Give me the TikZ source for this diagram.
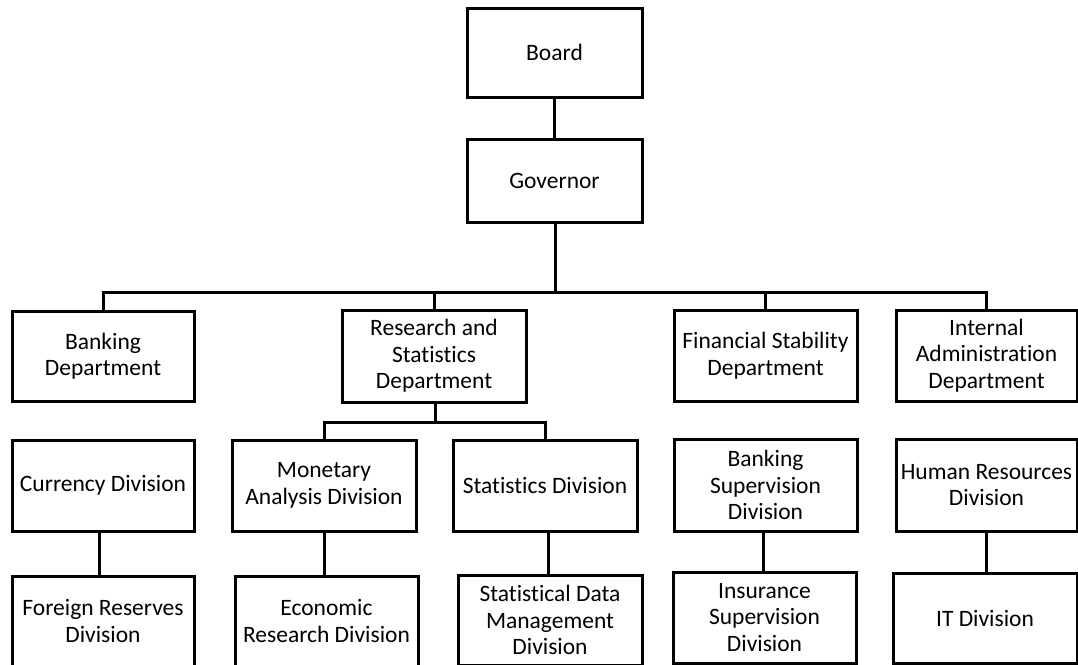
\documentclass[tikz,border=0pt]{standalone}
\usepackage{fontspec}
\setmainfont[Ligatures=NoCommon]{Carlito}
\begin{document}
\begin{tikzpicture}[x=1pt,y=-1pt,
  box/.style={draw=black,line width=3pt,inner sep=0pt,outer sep=0pt,align=center,
    font=\fontsize{23.5}{26.5}\selectfont},
  link/.style={draw=black,line width=3pt}]
\useasboundingbox (0,0) rectangle (1078,664);
% top
\node[box,minimum width=175pt,minimum height=89pt] (board) at (554.5,52.5) {Board};
\node[box,minimum width=175pt,minimum height=83pt] (gov) at (554.5,180.5) {Governor};
% departments
\node[box,minimum width=182pt,minimum height=90pt] (bank) at (103,356) {Banking\\Department};
\node[box,minimum width=184pt,minimum height=92pt] (res) at (434,356) {Research and\\Statistics\\Department};
\node[box,minimum width=183pt,minimum height=91pt] (fin) at (765.5,355.5) {Financial Stability\\Department};
\node[box,minimum width=181pt,minimum height=91pt] (intl) at (986.5,355.5) {Internal\\Administration\\Department};
% row 2
\node[box,minimum width=182pt,minimum height=91pt] (cur) at (103,485.5) {Currency Division};
\node[box,minimum width=184pt,minimum height=91pt] (mon) at (324,485.5) {Monetary\\Analysis Division};
\node[box,minimum width=184pt,minimum height=91pt] (stat) at (545,485.5) {Statistics Division};
\node[box,minimum width=183pt,minimum height=92pt] (bsup) at (765.5,485) {Banking\\Supervision\\Division};
\node[box,minimum width=181pt,minimum height=92pt] (hr) at (986.5,485) {Human Resources\\Division};
% row 3
\node[box,minimum width=182pt,minimum height=90pt] (forex) at (103,621) {Foreign Reserves\\Division};
\node[box,minimum width=183pt,minimum height=90pt] (econ) at (326.5,621) {Economic\\Research Division};
\node[box,minimum width=184pt,minimum height=90pt] (sdm) at (550,620) {Statistical Data\\Management\\Division};
\node[box,minimum width=183pt,minimum height=91pt] (ins) at (764.5,617.5) {Insurance\\Supervision\\Division};
\node[box,minimum width=184pt,minimum height=90pt] (it) at (985,618) {IT Division};
% connectors
\coordinate (bus) at (555,292);
\coordinate (sub) at (435,422);
\draw[link] (board.south) -- (board.south |- gov.north);
\draw[link] (bus |- gov.south) -- (bus);
\draw[link] (bank.north) -- (bank.north |- bus) -- (intl.north |- bus) -- (intl.north);
\draw[link] (res.north) -- (res.north |- bus);
\draw[link] (fin.north) -- (fin.north |- bus);
\draw[link] (sub |- res.south) -- (sub);
\draw[link] (mon.north) -- (mon.north |- sub) -- (stat.north |- sub) -- (stat.north);
\draw[link] ([xshift=-4pt]cur.south) -- ([xshift=-4pt]cur.south |- forex.north);
\draw[link] (mon.south) -- (mon.south |- econ.north);
\draw[link] ([xshift=3pt]stat.south) -- ([xshift=3pt]stat.south |- sdm.north);
\draw[link] ([xshift=-2.5pt]bsup.south) -- ([xshift=-2.5pt]bsup.south |- ins.north);
\draw[link] (hr.south) -- (hr.south |- it.north);
\end{tikzpicture}
\end{document}
